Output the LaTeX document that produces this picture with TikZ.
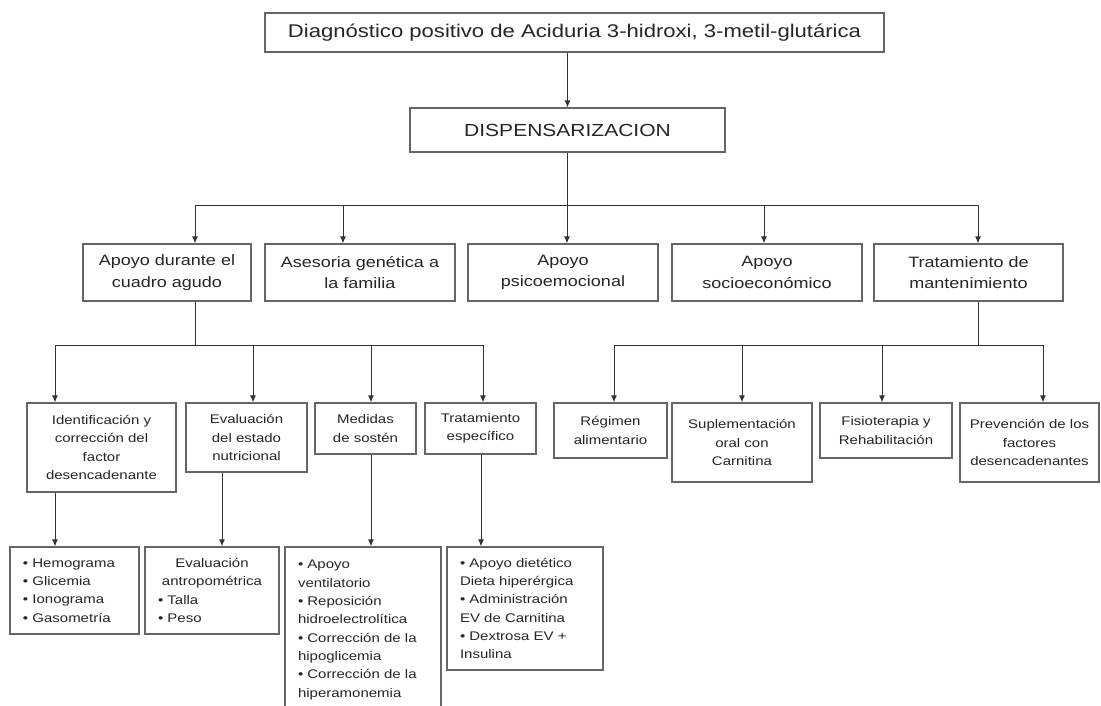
\documentclass[tikz,border=0pt]{standalone}
\usepackage{fontspec}
\setmainfont{Liberation Sans}[FakeStretch=1.2]
\usetikzlibrary{arrows.meta}
\newcommand{\fsTop}{\fontsize{18.4}{22}\selectfont}
\newcommand{\fsDisp}{\fontsize{17.5}{21}\selectfont}
\newcommand{\fsTwo}{\fontsize{15}{21.7}\selectfont}
\newcommand{\fsThree}{\fontsize{12.5}{18.3}\selectfont}
\begin{document}
\begin{tikzpicture}[x=1pt,y=-1pt,
	box/.style={draw=black!60,line width=1.3pt,fill=white,inner sep=0pt,align=center,text=black!85},
	two/.style={box,minimum width=190pt,minimum height=57pt,font=\fsTwo},
	three/.style={box,font=\fsThree},
	list/.style={box,font=\fsThree,align=left},
	arr/.style={-{Latex[length=7pt,width=6pt]}},
	line/.style={draw=black!80,line width=0.9pt}]
		\clip (0,0) rectangle (1101,705);
		\fill[white] (0,0) rectangle (1101,705);
		\node[box,minimum width=619pt,minimum height=39pt,font=\fsTop] at (574.5,32.5)(diag){Diagnóstico positivo de Aciduria 3-hidroxi, 3-metil-glutárica};
		\node[box,minimum width=315pt,minimum height=44pt,font=\fsDisp] at (567.5,130)(disp){DISPENSARIZACION};
		\node[two,minimum width=168pt] at (167,272.5)(a1){Apoyo durante el\\cuadro agudo};
		\node[two] at (360,272.5)(a2){Asesoria genética a\\la familia};
		\node[two] at (563,272.5)(a3){Apoyo\\psicoemocional};
		\node[two] at (767,272.5)(a4){Apoyo\\socioeconómico};
		\node[two,minimum width=189pt] at (968.5,272.5)(a5){Tratamiento de\\mantenimiento};
		\node[three,minimum width=149pt,minimum height=89pt] at (101.5,447.5)(c1){Identificación y\\corrección del\\factor\\desencadenante};
		\node[three,minimum width=121pt,minimum height=69pt] at (246.5,437.5)(c2){Evaluación\\del estado\\nutricional};
		\node[three,minimum width=101pt,minimum height=51pt] at (365.5,428.5)(c3){Medidas\\de sostén};
		\node[three,minimum width=111pt,minimum height=51pt] at (480.5,428.5)(c4){Tratamiento\\específico};
		\node[three,minimum width=113pt,minimum height=55pt] at (610.5,430.5)(r1){Régimen\\alimentario};
		\node[three,minimum width=140pt,minimum height=79pt] at (742,442.5)(r2){Suplementación\\oral con\\Carnitina};
		\node[three,minimum width=132pt,minimum height=55pt] at (886,430.5)(r3){Fisioterapia y\\Rehabilitación};
		\node[three,minimum width=139pt,minimum height=79pt] at (1029.5,442.5)(r4){Prevención de los\\factores\\desencadenantes};
		\node[list,minimum width=129pt,minimum height=87pt,text width=103pt] at (74.5,590.5)(d1){• Hemograma\\• Glicemia\\• Ionograma\\• Gasometría};
		\node[list,minimum width=134pt,minimum height=87pt,text width=108pt] at (212,590.5)(d2){\makebox[\linewidth][c]{Evaluación}\\\makebox[\linewidth][c]{antropométrica}\\• Talla\\• Peso};
		\node[list,minimum width=156pt,minimum height=166pt,text width=130pt] at (363,630)(d3){• Apoyo\\ventilatorio\\• Reposición\\hidroelectrolítica\\• Corrección de la\\hipoglicemia\\• Corrección de la\\hiperamonemia\\[2pt]};
		\node[list,minimum width=156pt,minimum height=123pt,text width=130pt] at (525,608.5)(d4){• Apoyo dietético\\Dieta hiperérgica\\• Administración\\EV de Carnitina\\• Dextrosa EV +\\Insulina};
		\coordinate (bus1) at (0,205);
		\coordinate (L) at (55,345);
		\coordinate (R) at (483,345);
		\coordinate (L2) at (614,345);
		\coordinate (R2) at (1043,345);
		\coordinate (s1) at (195,345);
		\coordinate (s2) at (978,345);
		\draw[line,arr] (diag.south -| disp.north) -- (disp.north);
		\draw[line] (disp.south) -- (disp.south |- bus1);
		\draw[line] (bus1 -| a1.north) ++(28,0) -- ++(783,0);
		\foreach \x/\n in {195/a1,343/a2,567/a3,764/a4,978/a5}{
			\coordinate (p\n) at (\x,205);
			\draw[line,arr] (p\n) -- (p\n |- \n.north);
		}
		\draw[line] (s1 |- a1.south) -- (s1);
		\draw[line] (s2 |- a5.south) -- (s2);
		\draw[line] (L) -- (R);
		\draw[line] (L2) -- (R2);
		\foreach \x/\n in {55/c1,253/c2,371/c3,483/c4,614/r1,742/r2,882/r3,1043/r4}{
			\coordinate (q\n) at (\x,345);
			\draw[line,arr] (q\n) -- (q\n |- \n.north);
		}
		\foreach \x/\a/\b in {55/c1/d1,222/c2/d2,371/c3/d3,481/c4/d4}{
			\coordinate (t\b) at (\x,0);
			\draw[line,arr] (t\b |- \a.south) -- (t\b |- \b.north);
		}
	\end{tikzpicture}
\end{document}
